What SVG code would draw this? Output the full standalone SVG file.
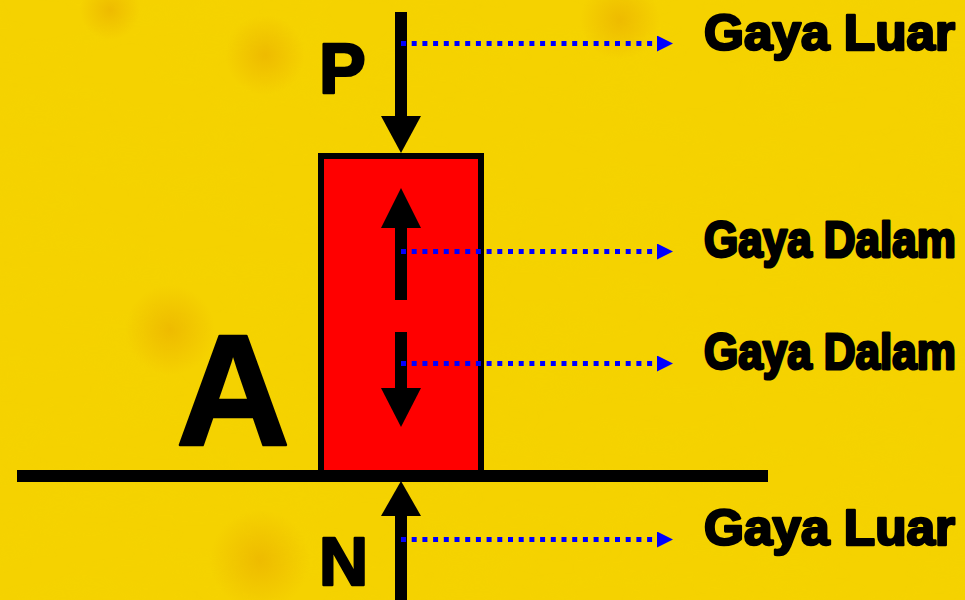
<svg xmlns="http://www.w3.org/2000/svg" width="965" height="600" viewBox="0 0 965 600">
  <defs>
    <style>
      .lbl { font-family: "Liberation Sans", Arial, sans-serif; font-weight: bold; fill: #000; stroke: #000; stroke-width: 2.6; stroke-linejoin: round; }
      .big { font-family: "Liberation Sans", Arial, sans-serif; font-weight: bold; fill: #000; stroke: #000; stroke-width: 2.5; stroke-linejoin: round; }
      .dot { stroke: #0000ff; stroke-width: 5; stroke-dasharray: 5 5.7; fill: none; }
      .shaft { stroke: #000; stroke-width: 12; fill: none; }
    </style>
    <marker id="blueHead" markerWidth="16" markerHeight="16" refX="0" refY="8" orient="auto" markerUnits="userSpaceOnUse">
      <path d="M0,0 L16,8 L0,16 Z" fill="#0000ff"/>
    </marker>
    <radialGradient id="spot">
      <stop offset="0" stop-color="#e8a800" stop-opacity="0.55"/>
      <stop offset="1" stop-color="#e8a800" stop-opacity="0"/>
    </radialGradient>
    <filter id="tex" x="0" y="0" width="100%" height="100%">
      <feTurbulence type="fractalNoise" baseFrequency="0.012 0.035" numOctaves="3" seed="4" result="n"/>
      <feColorMatrix in="n" type="matrix" values="0 0 0 0 0.90  0 0 0 0 0.66  0 0 0 0 0  0 0 0 1.4 -0.55"/>
    </filter>
  </defs>

  <g id="background">
    <rect width="965" height="600" fill="#f5d200"/>
    <rect width="965" height="600" filter="url(#tex)" opacity="0.6"/>
    <circle cx="265" cy="55" r="40" fill="url(#spot)"/>
    <circle cx="110" cy="10" r="30" fill="url(#spot)"/>
    <circle cx="170" cy="330" r="45" fill="url(#spot)"/>
    <circle cx="260" cy="560" r="50" fill="url(#spot)"/>
    <circle cx="620" cy="20" r="40" fill="url(#spot)"/>
  </g>

  <g id="ground">
    <line x1="17" y1="476" x2="768" y2="476" stroke="#000" stroke-width="12"/>
  </g>

  <g id="block">
    <rect x="321" y="156" width="160" height="317" fill="#ff0000" stroke="#000" stroke-width="6"/>
  </g>

  <g id="label-A">
    <text class="big" x="176" y="445" font-size="158">A</text>
  </g>
  <g id="label-P">
    <text class="big" x="319" y="93" font-size="70">P</text>
  </g>
  <g id="label-N">
    <text class="big" x="319" y="585" font-size="68">N</text>
  </g>

  <g id="force-arrows">
    <g id="arrow-P">
      <line class="shaft" x1="401" y1="12" x2="401" y2="118"/>
      <path d="M381,116 L421,116 L401,153 Z" fill="#000"/>
    </g>
    <g id="arrow-up">
      <line class="shaft" x1="401" y1="226" x2="401" y2="300"/>
      <path d="M381,228 L421,228 L401,188 Z" fill="#000"/>
    </g>
    <g id="arrow-down">
      <line class="shaft" x1="401" y1="332" x2="401" y2="390"/>
      <path d="M381,388 L421,388 L401,427 Z" fill="#000"/>
    </g>
    <g id="arrow-N">
      <line class="shaft" x1="401" y1="514" x2="401" y2="600"/>
      <path d="M381,516 L421,516 L401,481 Z" fill="#000"/>
    </g>
  </g>

  <g id="connectors">
    <line class="dot" x1="401" y1="43.5" x2="657" y2="43.5" marker-end="url(#blueHead)"/>
    <line class="dot" x1="401" y1="251.5" x2="657" y2="251.5" marker-end="url(#blueHead)"/>
    <line class="dot" x1="401" y1="363.5" x2="657" y2="363.5" marker-end="url(#blueHead)"/>
    <line class="dot" x1="401" y1="539.5" x2="657" y2="539.5" marker-end="url(#blueHead)"/>
  </g>

  <g id="text-gaya-luar-1">
    <text class="lbl" x="704" y="50" font-size="50" textLength="251" lengthAdjust="spacingAndGlyphs">Gaya Luar</text>
  </g>
  <g id="text-gaya-dalam-1">
    <text class="lbl" x="704" y="257" font-size="44" transform="translate(0 257) scale(1 1.13) translate(0 -257)">Gaya Dalam</text>
  </g>
  <g id="text-gaya-dalam-2">
    <text class="lbl" x="704" y="369" font-size="44" transform="translate(0 369) scale(1 1.13) translate(0 -369)">Gaya Dalam</text>
  </g>
  <g id="text-gaya-luar-2">
    <text class="lbl" x="704" y="545" font-size="50" textLength="251" lengthAdjust="spacingAndGlyphs">Gaya Luar</text>
  </g>
</svg>
